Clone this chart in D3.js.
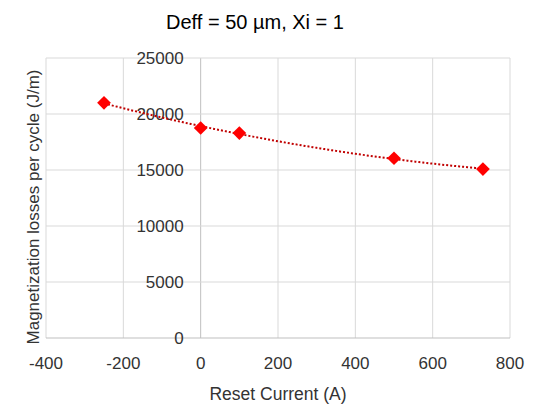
<!DOCTYPE html>
<html>
<head>
<meta charset="utf-8">
<script src="https://cdn.jsdelivr.net/npm/d3@7"></script>
<style>
  body { margin: 0; background: #fff; }
  text { font-family: "Liberation Sans", Arial, sans-serif; fill: #333; }
</style>
</head>
<body>
<svg id="chart" width="539" height="405"></svg>
<script>
  'use strict';

  // data
  var resetCurrent = [-250, 0, 100, 500, 730];
  var losses = [21000, 18750, 18300, 16050, 15080];
  var xTicks = [-400, -200, 0, 200, 400, 600, 800];
  var yTicks = [0, 5000, 10000, 15000, 20000, 25000];

  var svg = d3.select('#chart');
  var m = {left: 46, right: 29, top: 58, bottom: 67};
  var W = 539, H = 405;

  var x = d3.scaleLinear().domain([-400, 800]).range([m.left, W - m.right]);
  var y = d3.scaleLinear().domain([0, 25000]).range([H - m.bottom, m.top]);

  // gridlines
  svg.append('g').selectAll('line.v')
      .data(xTicks)
    .enter().append('line')
      .attr('x1', function(d) { return x(d); })
      .attr('x2', function(d) { return x(d); })
      .attr('y1', y(0)).attr('y2', y(25000))
      .style('stroke', function(d) { return d === 0 ? '#bfbfbf' : '#d9d9d9'; })
      .style('stroke-width', 1);

  svg.append('g').selectAll('line.h')
      .data(yTicks)
    .enter().append('line')
      .attr('x1', x(-400)).attr('x2', x(800))
      .attr('y1', function(d) { return y(d); })
      .attr('y2', function(d) { return y(d); })
      .style('stroke', function(d) { return d === 0 ? '#bfbfbf' : '#d9d9d9'; })
      .style('stroke-width', 1);

  // y tick labels sit left of the x=0 axis
  svg.append('g').selectAll('text')
      .data(yTicks)
    .enter().append('text')
      .attr('x', x(0) - 17)
      .attr('y', function(d) { return y(d); })
      .attr('dy', '0.35em')
      .style('text-anchor', 'end')
      .style('font-size', '17px')
      .text(function(d) { return d; });

  // x tick labels
  svg.append('g').selectAll('text')
      .data(xTicks)
    .enter().append('text')
      .attr('x', function(d) { return x(d); })
      .attr('y', y(0) + 25)
      .attr('dy', '0.35em')
      .style('text-anchor', 'middle')
      .style('font-size', '17px')
      .text(function(d) { return d; });

  // quadratic least-squares trendline
  function fit(xs, ys) {
    var n = xs.length, s = [0, 0, 0, 0, 0], t = [0, 0, 0], i, k;
    for (i = 0; i < n; i++) {
      for (k = 0; k < 5; k++) s[k] += Math.pow(xs[i], k);
      for (k = 0; k < 3; k++) t[k] += ys[i] * Math.pow(xs[i], k);
    }
    var A = [[s[0], s[1], s[2], t[0]], [s[1], s[2], s[3], t[1]], [s[2], s[3], s[4], t[2]]];
    for (i = 0; i < 3; i++) {
      for (var j = i + 1; j < 3; j++) {
        var f = A[j][i] / A[i][i];
        for (k = i; k < 4; k++) A[j][k] -= f * A[i][k];
      }
    }
    var c = [0, 0, 0];
    for (i = 2; i >= 0; i--) {
      var v = A[i][3];
      for (k = i + 1; k < 3; k++) v -= A[i][k] * c[k];
      c[i] = v / A[i][i];
    }
    return function(v) { return c[0] + c[1] * v + c[2] * v * v; };
  }
  var trend = fit(resetCurrent, losses);
  var tx = d3.range(resetCurrent[0], resetCurrent[resetCurrent.length - 1] + 1, 5);

  svg.append('path')
      .datum(tx)
      .attr('d', d3.line()
        .x(function(d) { return x(d); })
        .y(function(d) { return y(trend(d)); }))
      .style('fill', 'none')
      .style('stroke', '#c00000')
      .style('stroke-width', 2)
      .style('stroke-dasharray', '2,2');

  // markers
  svg.append('g').selectAll('path')
      .data(resetCurrent)
    .enter().append('path')
      .attr('transform', function(d, i) { return 'translate(' + x(d) + ',' + y(losses[i]) + ')'; })
      .attr('d', d3.symbol().type(d3.symbolDiamond2).size(120))
      .style('fill', '#ff0000');

  // titles
  svg.append('text')
      .attr('x', 255).attr('y', 22)
      .attr('dy', '0.35em')
      .style('text-anchor', 'middle')
      .style('font-size', '20px')
      .style('fill', '#000')
      .text('Deff = 50 µm, Xi = 1');

  svg.append('text')
      .attr('x', (x(-400) + x(800)) / 2).attr('y', 394)
      .attr('dy', '0.35em')
      .style('text-anchor', 'middle')
      .style('font-size', '17.5px')
      .text('Reset Current (A)');

  svg.append('text')
      .attr('transform', 'translate(33,' + 207 + ') rotate(-90)')
      .attr('dy', '0.35em')
      .style('text-anchor', 'middle')
      .style('font-size', '17px')
      .text('Magnetization losses per cycle (J/m)');
</script>
</body>
</html>
